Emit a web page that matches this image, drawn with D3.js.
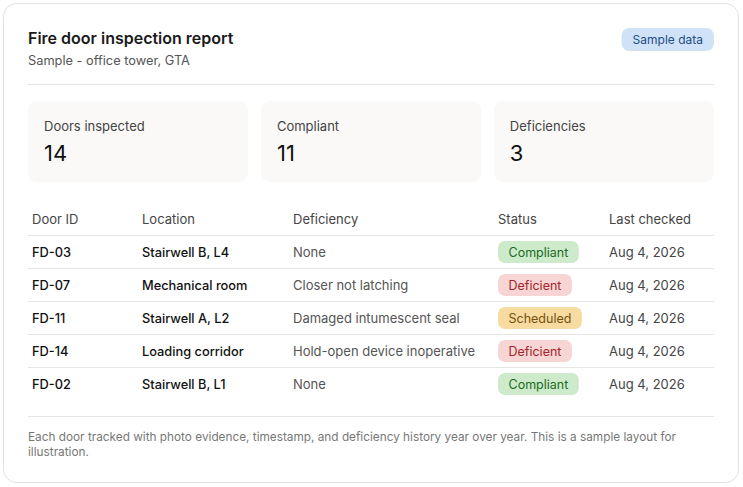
<!DOCTYPE html>
<html><head><meta charset="utf-8">
<script src="https://cdn.jsdelivr.net/npm/d3@7"></script>
<style>
html,body{margin:0;padding:0;background:#fff;}
svg{display:block;font-family:Inter,"Open Sans",sans-serif;}
</style></head>
<body>
<svg id="c" width="743" height="487"></svg>
<script>
const title = "Fire door inspection report";
const subtitle = "Sample - office tower, GTA";
const badge = "Sample data";
const kpiLabels = ["Doors inspected", "Compliant", "Deficiencies"];
const kpiValues = [14, 11, 3];
const columns = ["Door ID", "Location", "Deficiency", "Status", "Last checked"];
const doorIds = ["FD-03", "FD-07", "FD-11", "FD-14", "FD-02"];
const locations = ["Stairwell B, L4", "Mechanical room", "Stairwell A, L2", "Loading corridor", "Stairwell B, L1"];
const deficiencies = ["None", "Closer not latching", "Damaged intumescent seal", "Hold-open device inoperative", "None"];
const statuses = ["Compliant", "Deficient", "Scheduled", "Deficient", "Compliant"];
const lastChecked = ["Aug 4, 2026", "Aug 4, 2026", "Aug 4, 2026", "Aug 4, 2026", "Aug 4, 2026"];
const footnote = "Each door tracked with photo evidence, timestamp, and deficiency history year over year. This is a sample layout for illustration.";

const statusStyle = {
  Compliant: {bg: "#cdebcb", fg: "#1d6a22"},
  Deficient: {bg: "#f8d5d5", fg: "#a3262b"},
  Scheduled: {bg: "#f7dba0", fg: "#74510f"}
};

const svg = d3.select("#c");
const L = 28, R = 714;

// card
svg.append("rect").attr("x", 3.5).attr("y", 3.5).attr("width", 735).attr("height", 479)
  .attr("rx", 13).attr("fill", "#fff").attr("stroke", "#e2e2e2");

// header
svg.append("text").attr("x", L).attr("y", 44).attr("font-size", 16).attr("font-weight", 600)
  .attr("fill", "#1a1a1a").text(title);
svg.append("text").attr("x", L).attr("y", 65).attr("font-size", 12.8).attr("fill", "#555").text(subtitle);

const bt = svg.append("text").attr("x", R - 11).attr("y", 44).attr("text-anchor", "end")
  .attr("font-size", 12).attr("fill", "#1f4d85").text(badge);
const bw = bt.node().getComputedTextLength();
svg.insert("rect", "text:last-of-type").attr("x", R - bw - 22).attr("y", 28).attr("width", bw + 22).attr("height", 23)
  .attr("rx", 8).attr("fill", "#cfe2f8");
bt.raise();

svg.append("line").attr("x1", L).attr("x2", R).attr("y1", 84.5).attr("y2", 84.5).attr("stroke", "#e4e4e4");

// KPI cards
const kx = d3.scaleBand().domain(kpiLabels).range([L, R]).paddingInner(0.055);
const kg = svg.selectAll("g.kpi").data(kpiLabels).join("g").attr("class", "kpi")
  .attr("transform", d => `translate(${kx(d)},101)`);
kg.append("rect").attr("width", kx.bandwidth()).attr("height", 81).attr("rx", 9).attr("fill", "#faf9f7");
kg.append("text").attr("x", 16).attr("y", 30).attr("font-size", 13).attr("fill", "#444").text(d => d);
kg.append("text").attr("x", 16).attr("y", 60).attr("font-size", 22).attr("fill", "#111").text((d, i) => kpiValues[i]);

// table
const colX = [32, 142, 293, 498, 609];
const rows = doorIds.map((d, i) => ({id: d, loc: locations[i], def: deficiencies[i], status: statuses[i], date: lastChecked[i]}));
const y = d3.scaleBand().domain(d3.range(rows.length)).range([235, 400]);

svg.selectAll("text.hdr").data(columns).join("text").attr("class", "hdr")
  .attr("x", (d, i) => colX[i]).attr("y", 224).attr("font-size", 13).attr("fill", "#444").text(d => d);

const rg = svg.selectAll("g.row").data(rows).join("g").attr("class", "row")
  .attr("transform", (d, i) => `translate(0,${y(i)})`);
rg.append("line").attr("x1", L).attr("x2", R).attr("y1", 0.5).attr("y2", 0.5).attr("stroke", "#e6e6e6");
const cy = y.bandwidth() / 2 + 5.5;
rg.append("text").attr("x", colX[0]).attr("y", cy).attr("font-size", 12.8).attr("font-weight", 500).attr("fill", "#111").text(d => d.id);
rg.append("text").attr("x", colX[1]).attr("y", cy).attr("font-size", 12.8).attr("font-weight", 500).attr("fill", "#111").text(d => d.loc);
rg.append("text").attr("x", colX[2]).attr("y", cy).attr("font-size", 13).attr("fill", "#555").text(d => d.def);
rg.append("text").attr("x", colX[4]).attr("y", cy).attr("font-size", 13).attr("fill", "#444").text(d => d.date);
rg.each(function(d) {
  const g = d3.select(this);
  const st = statusStyle[d.status];
  const r = g.append("rect").attr("x", colX[3]).attr("y", y.bandwidth() / 2 - 10.5).attr("height", 22).attr("rx", 7).attr("fill", st.bg);
  const t = g.append("text").attr("x", colX[3] + 10.5).attr("y", cy).attr("font-size", 12.5).attr("fill", st.fg).text(d.status);
  r.attr("width", t.node().getComputedTextLength() + 21);
});

svg.append("line").attr("x1", L).attr("x2", R).attr("y1", 416.5).attr("y2", 416.5).attr("stroke", "#e4e4e4");

// footnote wrap
const ft = svg.append("text").attr("font-size", 11.8).attr("fill", "#777");
const words = footnote.split(" ");
let line = [], ln = 0;
let ts = ft.append("tspan").attr("x", L).attr("y", 441);
words.forEach(w => {
  line.push(w);
  ts.text(line.join(" "));
  if (ts.node().getComputedTextLength() > R - L && line.length > 1) {
    line.pop(); ts.text(line.join(" "));
    line = [w]; ln++;
    ts = ft.append("tspan").attr("x", L).attr("y", 441 + ln * 15).text(w);
  }
});
</script>
</body></html>
